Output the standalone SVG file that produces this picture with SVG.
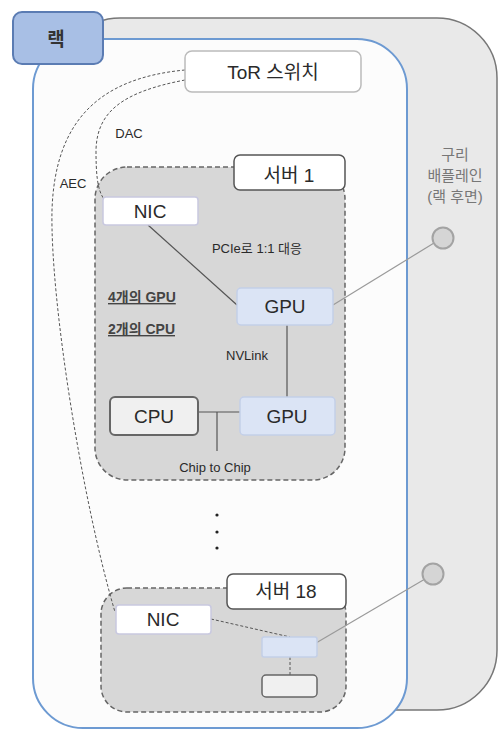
<svg xmlns="http://www.w3.org/2000/svg" width="498" height="730" viewBox="0 0 498 730">
<style>
text{font-family:"Liberation Sans","Noto Sans CJK KR",sans-serif;fill:#2a2a2a;}
.big{font-size:19px;text-anchor:middle;}
.sm{font-size:13px;text-anchor:middle;}
.lbl{fill:#fff;stroke:#555;stroke-width:1.5;}
.gpu{fill:#dbe4f5;stroke:#c3cfe8;stroke-width:1.5;}
.cpu{fill:#f0f0f0;stroke:#666;stroke-width:2;}
.nic{fill:#fff;stroke:#c9c9e0;stroke-width:1.5;}
.srv{fill:#d7d7d7;stroke:#666;stroke-width:1.5;stroke-dasharray:5 3;}
.bp{fill:#d5d5d5;stroke:#a3a3a3;stroke-width:2;}
.cable{fill:none;stroke:#555;stroke-width:1;stroke-dasharray:3 2;}
.ln{fill:none;stroke:#555;stroke-width:1.2;}
.gl{fill:none;stroke:#9a9a9a;stroke-width:1.2;}
.ul{font-size:14px;text-decoration:underline;fill:#444;font-weight:600;}
</style>
<g id="backplane">
<rect x="60" y="18" width="437" height="692" rx="60" fill="#e9e9e9" stroke="#777" stroke-width="1.5"/>
<text x="455" y="160" style="font-size:15px;text-anchor:middle;fill:#777">구리</text>
<text x="455" y="181" style="font-size:15px;text-anchor:middle;fill:#777">배플레인</text>
<text x="455" y="202" style="font-size:15px;text-anchor:middle;fill:#777">(랙 후면)</text>
</g>
<g id="rack-panel">
<rect x="33" y="39" width="374" height="689" rx="50" fill="#fcfcfc" stroke="#6d9ad2" stroke-width="2"/>
</g>
<g id="rack-label">
<rect x="13" y="12" width="90" height="52" rx="9" fill="#a8bfe5" stroke="#5b7cb3" stroke-width="2"/>
<text x="56" y="46" style="font-size:19px;text-anchor:middle;font-weight:600;fill:#333">랙</text>
</g>
<g id="server1">
<rect class="srv" x="95" y="167" width="250" height="313" rx="32"/>
<rect class="lbl" x="234" y="155" width="111" height="35" rx="6"/>
<text class="big" x="289" y="182">서버 1</text>
<text class="ul" x="108" y="302">4개의 GPU</text>
<text class="ul" x="108" y="334">2개의 CPU</text>
</g>
<g id="server18">
<rect class="srv" x="101" y="588" width="245" height="124" rx="26"/>
<rect class="lbl" x="227" y="574" width="119" height="35" rx="6"/>
<text class="big" x="286" y="598">서버 18</text>
</g>
<g id="connectors">
<path class="cable" d="M185,80 C122,92 97,112 96,150 C96,172 97,190 104,199"/>
<path class="cable" d="M185,70 C100,78 55,120 52,210 C50,300 82,500 115,612"/>
<line class="ln" x1="148" y1="225" x2="237" y2="305"/>
<line class="gl" x1="333" y1="305" x2="434" y2="243"/>
<line class="ln" x1="287" y1="325" x2="287" y2="397"/>
<line class="ln" x1="198" y1="412" x2="240" y2="412"/>
<line class="ln" x1="217" y1="412" x2="217" y2="451"/>
<path class="cable" d="M211,619 L290,637"/>
<line class="cable" x1="290" y1="657" x2="290" y2="675"/>
<line class="gl" x1="316" y1="643" x2="425" y2="579"/>
<text x="129" y="138" style="font-size:13px;text-anchor:middle">DAC</text>
<text x="73" y="188" style="font-size:13px;text-anchor:middle">AEC</text>
<text class="sm" x="257" y="253">PCIe로 1:1 대응</text>
<text class="sm" x="247" y="360">NVLink</text>
<text class="sm" x="215" y="472">Chip to Chip</text>
</g>
<g id="tor">
<rect class="lbl" x="185" y="51" width="176" height="41" rx="7" style="stroke:#bbb"/>
<text class="big" x="273" y="79">ToR 스위치</text>
</g>
<g id="nic1">
<rect class="nic" x="103" y="197" width="95" height="28" rx="3"/>
<text class="big" x="150" y="218">NIC</text>
</g>
<g id="gpu1">
<rect class="gpu" x="237" y="288" width="96" height="37" rx="4"/>
<text class="big" x="285" y="313">GPU</text>
</g>
<g id="cpu1">
<rect class="cpu" x="110" y="397" width="88" height="38" rx="5"/>
<text class="big" x="154" y="423">CPU</text>
</g>
<g id="gpu2">
<rect class="gpu" x="240" y="397" width="95" height="38" rx="4"/>
<text class="big" x="287" y="423">GPU</text>
</g>
<g id="dots">
<circle cx="217" cy="515" r="1.6" fill="#222"/>
<circle cx="217" cy="532" r="1.6" fill="#222"/>
<circle cx="217" cy="548" r="1.6" fill="#222"/>
</g>
<g id="nic18">
<rect class="nic" x="116" y="605" width="95" height="29" rx="3"/>
<text class="big" x="163" y="626">NIC</text>
</g>
<g id="gpu18">
<rect class="gpu" x="262" y="637" width="55" height="20" rx="2"/>
</g>
<g id="cpu18">
<rect class="cpu" x="262" y="675" width="55" height="22" rx="4" style="stroke-width:1.5"/>
</g>
<g id="bp-port1"><circle class="bp" cx="443" cy="238" r="10.5"/></g>
<g id="bp-port2"><circle class="bp" cx="433" cy="574" r="10.5"/></g>
</svg>
